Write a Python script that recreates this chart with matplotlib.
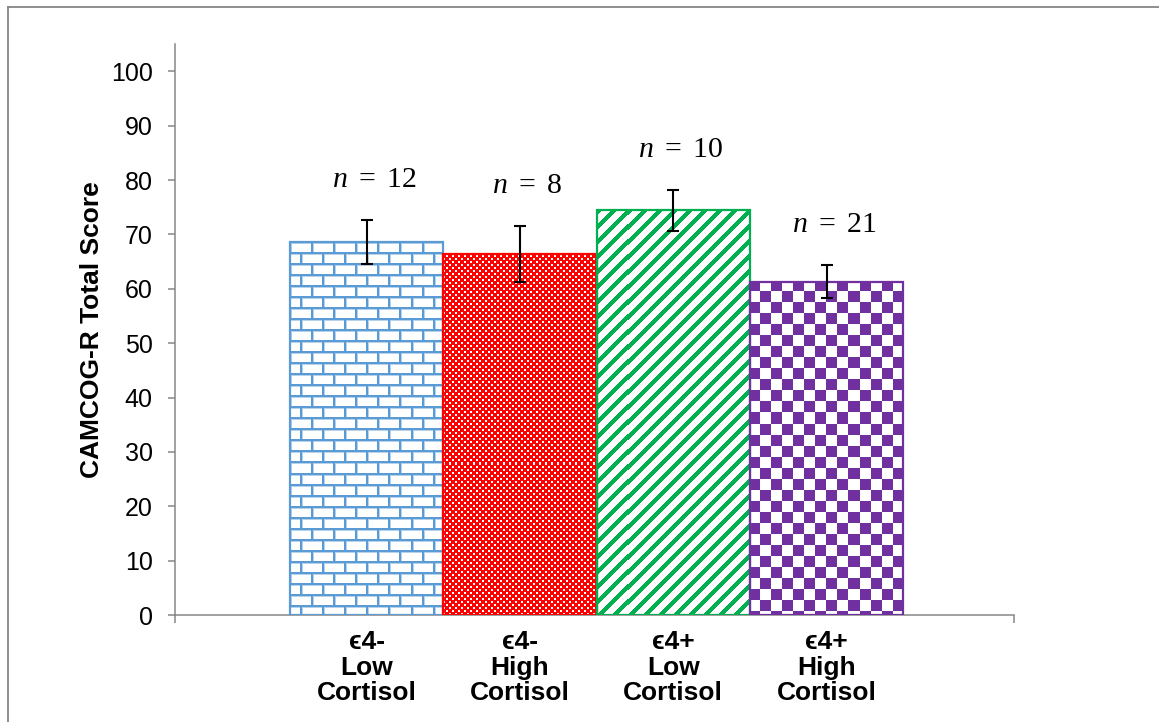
import numpy as np
import matplotlib
matplotlib.use("Agg")
import matplotlib.pyplot as plt
from matplotlib.lines import Line2D

plt.rcParams['font.family'] = ['Liberation Sans', 'DejaVu Sans']
plt.rcParams['mathtext.fontset'] = 'custom'
plt.rcParams['mathtext.rm'] = 'Liberation Serif'
plt.rcParams['mathtext.it'] = 'Liberation Serif:italic'

# group means, standard errors and sample sizes
groups = ["\u03f54-\nLow\nCortisol", "\u03f54-\nHigh\nCortisol",
          "\u03f54+\nLow\nCortisol", "\u03f54+\nHigh\nCortisol"]
means = [68.6, 66.4, 74.4, 61.3]
errors = [4.0, 5.1, 3.7, 3.0]
counts = [12, 8, 10, 21]

colors = ["#5B9BD5", "#FF0000", "#00B050", "#7030A0"]
patterns = ["brick", "dots", "stripes", "checker"]

gray = "#868686"


def texture(kind, h, w, color):
    yy, xx = np.indices((h, w))
    rgb = np.array(matplotlib.colors.to_rgb(color))
    img = np.ones((h, w, 3))
    if kind == "brick":
        row = yy // 11
        hy = yy % 11
        vx = (xx + (row % 2) * 11) % 22
        mask = (hy < 2) | (vx < 2)
        soft = (hy == 2) | (vx == 2)
        img[soft] = 0.45 * rgb + 0.55
        img[mask] = rgb
        return img
    if kind == "dots":
        white = (((xx % 6) < 2) & ((yy % 6) < 2)) | \
                ((((xx + 3) % 6) < 2) & (((yy + 3) % 6) < 2))
        mask = ~white
    elif kind == "stripes":
        mask = ((xx + yy) % 15) < 6
    else:
        mask = ((xx // 11 + yy // 11) % 2) == 0
    img[mask] = rgb
    return img


fig = plt.figure(figsize=(11.59, 7.22), dpi=100)
ax = fig.add_axes([0.151, 0.148, 0.724, 0.791])

x = np.arange(len(means))
ax.set_xlim(-1.25, 4.223)
ax.set_ylim(0, 105)

bars = ax.bar(x, means, width=1.0, facecolor="none", edgecolor=colors,
              linewidth=1.6, zorder=3)

# fill each bar with its pattern image, clipped to the bar outline;
# the image extent is snapped to whole pixels so the tile maps 1:1
inv = ax.transData.inverted()
for bar, kind, col in zip(bars, patterns, colors):
    x0, x1 = bar.get_x(), bar.get_x() + bar.get_width()
    y1 = bar.get_height()
    p0 = np.floor(ax.transData.transform((x0, 0)))
    p1 = np.ceil(ax.transData.transform((x1, y1)))
    w_px, h_px = (p1 - p0).astype(int)
    d0 = inv.transform(p0)
    d1 = inv.transform(p1)
    im = ax.imshow(texture(kind, h_px, w_px, col),
                   extent=(d0[0], d1[0], d0[1], d1[1]),
                   aspect="auto", interpolation="none", zorder=2)
    im.set_clip_path(bar)

ax.errorbar(x, means, yerr=errors, fmt="none", ecolor="black",
            elinewidth=1.5, capsize=4.5, capthick=1.5, zorder=4)

for xi, m, e, n in zip(x, means, errors, counts):
    ax.text(xi + 0.05, m + e + 7.6, r"$n\ =\ %d$" % n, ha="center",
            va="center", fontsize=21.5)

ax.set_yticks(np.arange(0, 101, 10))
ax.tick_params(axis="y", direction="out", length=5, width=1.1, color=gray,
               labelsize=18, pad=11)
ax.set_xticks(x, groups, fontweight="bold", fontsize=19, linespacing=1.08)
ax.tick_params(axis="x", which="major", length=0, pad=11)
ax.set_xticks(list(ax.get_xlim()), minor=True)
ax.tick_params(axis="x", which="minor", direction="out", length=6,
               width=1.1, color=gray)

for side in ["top", "right"]:
    ax.spines[side].set_visible(False)
for side in ["left", "bottom"]:
    ax.spines[side].set_color(gray)
    ax.spines[side].set_linewidth(1.1)

ax.set_ylabel("CAMCOG-R Total Score", fontweight="bold", fontsize=19,
              labelpad=5)

# chart area border
fig.add_artist(Line2D([8 / 1159, 8 / 1159], [0, 1 - 7 / 722],
                      transform=fig.transFigure, color=gray, lw=1.3))
fig.add_artist(Line2D([8 / 1159, 1], [1 - 7 / 722, 1 - 7 / 722],
                      transform=fig.transFigure, color=gray, lw=1.3))

fig.savefig("out.png", dpi=100)
